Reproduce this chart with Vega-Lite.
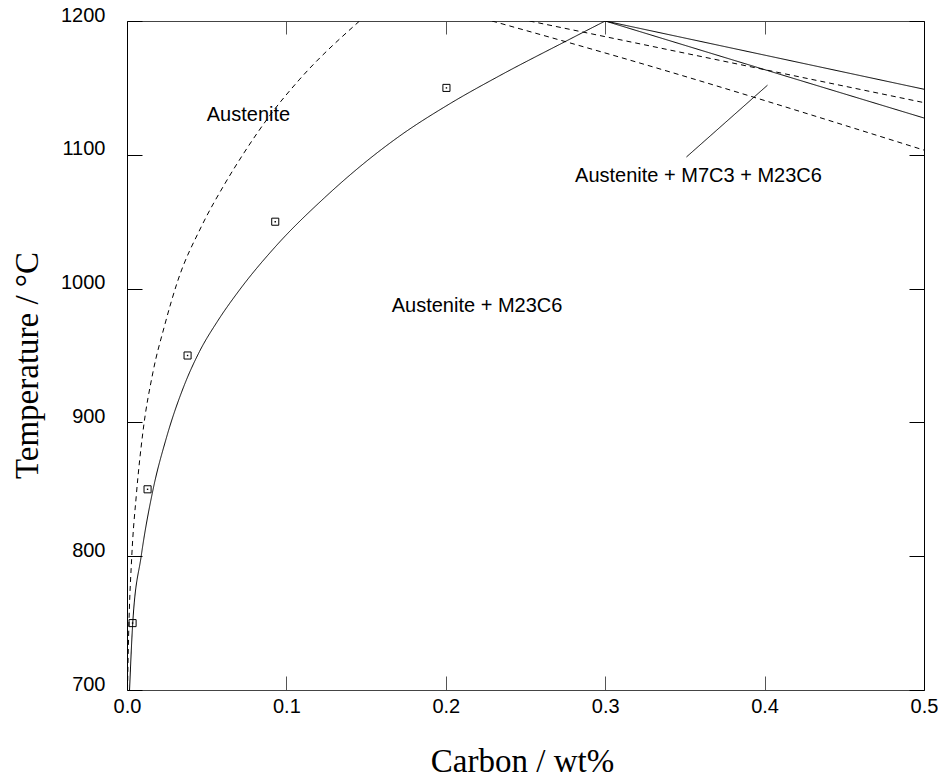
{
  "$schema": "https://vega.github.io/schema/vega-lite/v6.json",
  "width": 797,
  "height": 669,
  "autosize": {"type": "none"},
  "padding": {"left": 127, "top": 21, "right": 14, "bottom": 87},
  "background": "white",
  "config": {
    "view": {"stroke": null},
    "axis": {
      "grid": false,
      "labelFont": "Liberation Sans",
      "labelFontSize": 20,
      "labelColor": "black",
      "labelFlush": false,
      "labelOverlap": false,
      "titleFont": "Liberation Serif",
      "titleFontSize": 33,
      "titleFontWeight": "normal",
      "titleColor": "black",
      "domainColor": "black",
      "tickColor": "black",
      "domainWidth": 1,
      "tickWidth": 1
    }
  },
  "datasets": {
    "lines": [
      {"series": "s1", "style": "solid", "c": 0.0016, "t": 700},
      {"series": "s1", "style": "solid", "c": 0.0036, "t": 750},
      {"series": "s1", "style": "solid", "c": 0.0089, "t": 800},
      {"series": "s1", "style": "solid", "c": 0.0162, "t": 849},
      {"series": "s1", "style": "solid", "c": 0.0246, "t": 888},
      {"series": "s1", "style": "solid", "c": 0.036, "t": 928},
      {"series": "s1", "style": "solid", "c": 0.0455, "t": 953},
      {"series": "s1", "style": "solid", "c": 0.057, "t": 976},
      {"series": "s1", "style": "solid", "c": 0.0706, "t": 999},
      {"series": "s1", "style": "solid", "c": 0.0936, "t": 1032},
      {"series": "s1", "style": "solid", "c": 0.124, "t": 1068},
      {"series": "s1", "style": "solid", "c": 0.148, "t": 1093},
      {"series": "s1", "style": "solid", "c": 0.171, "t": 1114},
      {"series": "s1", "style": "solid", "c": 0.2023, "t": 1138},
      {"series": "s1", "style": "solid", "c": 0.2336, "t": 1159},
      {"series": "s1", "style": "solid", "c": 0.2755, "t": 1185},
      {"series": "s1", "style": "solid", "c": 0.3, "t": 1200},
      {"series": "s2", "style": "solid", "c": 0.3, "t": 1200},
      {"series": "s2", "style": "solid", "c": 0.5, "t": 1149},
      {"series": "s3", "style": "solid", "c": 0.3, "t": 1200},
      {"series": "s3", "style": "solid", "c": 0.4018, "t": 1163},
      {"series": "s3", "style": "solid", "c": 0.5, "t": 1127.5},
      {"series": "d1", "style": "dashed", "c": 0.0003, "t": 700},
      {"series": "d1", "style": "dashed", "c": 0.001, "t": 740},
      {"series": "d1", "style": "dashed", "c": 0.003, "t": 800},
      {"series": "d1", "style": "dashed", "c": 0.0058, "t": 845},
      {"series": "d1", "style": "dashed", "c": 0.0099, "t": 892},
      {"series": "d1", "style": "dashed", "c": 0.0162, "t": 937},
      {"series": "d1", "style": "dashed", "c": 0.0235, "t": 972},
      {"series": "d1", "style": "dashed", "c": 0.0319, "t": 1006},
      {"series": "d1", "style": "dashed", "c": 0.0465, "t": 1046},
      {"series": "d1", "style": "dashed", "c": 0.0612, "t": 1078},
      {"series": "d1", "style": "dashed", "c": 0.0737, "t": 1102},
      {"series": "d1", "style": "dashed", "c": 0.09, "t": 1130},
      {"series": "d1", "style": "dashed", "c": 0.108, "t": 1156},
      {"series": "d1", "style": "dashed", "c": 0.1459, "t": 1200},
      {"series": "d2", "style": "dashed", "c": 0.229, "t": 1200},
      {"series": "d2", "style": "dashed", "c": 0.309, "t": 1173},
      {"series": "d2", "style": "dashed", "c": 0.5, "t": 1103.5},
      {"series": "d3", "style": "dashed", "c": 0.2525, "t": 1200},
      {"series": "d3", "style": "dashed", "c": 0.5, "t": 1139},
      {"series": "leader", "style": "solid", "c": 0.351, "t": 1098.4},
      {"series": "leader", "style": "solid", "c": 0.4018, "t": 1152}
    ],
    "points": [
      {"c": 0.0035, "t": 750},
      {"c": 0.0129, "t": 850},
      {"c": 0.038, "t": 950},
      {"c": 0.093, "t": 1050},
      {"c": 0.2004, "t": 1150}
    ],
    "labels": [
      {"label": "Austenite", "c": 0.0762, "t": 1125.5},
      {"label": "Austenite + M23C6", "c": 0.2196, "t": 982.7},
      {"label": "Austenite + M7C3 + M23C6", "c": 0.3585, "t": 1079.9}
    ]
  },
  "layer": [
    {
      "data": {"name": "lines"},
      "mark": {"type": "line", "color": "black", "strokeWidth": 1, "interpolate": "monotone", "clip": true},
      "encoding": {
        "x": {
          "field": "c", "type": "quantitative",
          "scale": {"domain": [0, 0.5], "nice": false, "zero": false},
          "axis": {
            "orient": "bottom", "values": [0, 0.1, 0.2, 0.3, 0.4, 0.5], "format": ".1f",
            "tickSize": -14, "labelPadding": 36, "labelBaseline": "alphabetic",
            "domainColor": "#444", "tickColor": "#555",
            "title": "Carbon / wt%", "titleX": 395, "titleY": 81, "titleBaseline": "alphabetic", "titleAlign": "center"
          }
        },
        "y": {
          "field": "t", "type": "quantitative",
          "scale": {"domain": [700, 1200], "nice": false, "zero": false},
          "axis": {
            "orient": "left", "values": [700, 800, 900, 1000, 1100, 1200], "format": "d",
            "tickSize": -15, "labelPadding": 37, "labelBaseline": "alphabetic",
            "title": "Temperature / °C", "titleX": -90, "titleY": 344, "titleAngle": -90, "titleBaseline": "alphabetic", "titleAlign": "center"
          }
        },
        "detail": {"field": "series"},
        "strokeDash": {
          "field": "style", "type": "nominal",
          "scale": {"domain": ["solid", "dashed"], "range": [[1, 0], [5, 4]]},
          "legend": null
        },
        "order": {"field": "c", "type": "quantitative"}
      }
    },
    {
      "data": {"name": "points"},
      "mark": {"type": "point", "shape": "square", "filled": false, "color": "black", "strokeWidth": 1, "size": 50, "opacity": 1},
      "encoding": {
        "x": {"field": "c", "type": "quantitative", "axis": {"orient": "top", "values": [0, 0.1, 0.2, 0.3, 0.4, 0.5], "labels": false, "title": null, "tickSize": -13, "domainColor": "#444", "tickColor": "#555"}},
        "y": {"field": "t", "type": "quantitative", "axis": {"orient": "right", "values": [700, 800, 900, 1000, 1100, 1200], "labels": false, "title": null, "tickSize": -15}}
      }
    },
    {
      "data": {"name": "points"},
      "mark": {"type": "point", "shape": "square", "filled": true, "color": "black", "size": 2, "opacity": 1},
      "encoding": {
        "x": {"field": "c", "type": "quantitative", "axis": null},
        "y": {"field": "t", "type": "quantitative", "axis": null}
      }
    },
    {
      "data": {"name": "labels"},
      "mark": {"type": "text", "font": "Liberation Sans", "fontSize": 20, "color": "black", "align": "center", "baseline": "alphabetic"},
      "encoding": {
        "x": {"field": "c", "type": "quantitative", "axis": null},
        "y": {"field": "t", "type": "quantitative", "axis": null},
        "text": {"field": "label"}
      }
    }
  ]
}
